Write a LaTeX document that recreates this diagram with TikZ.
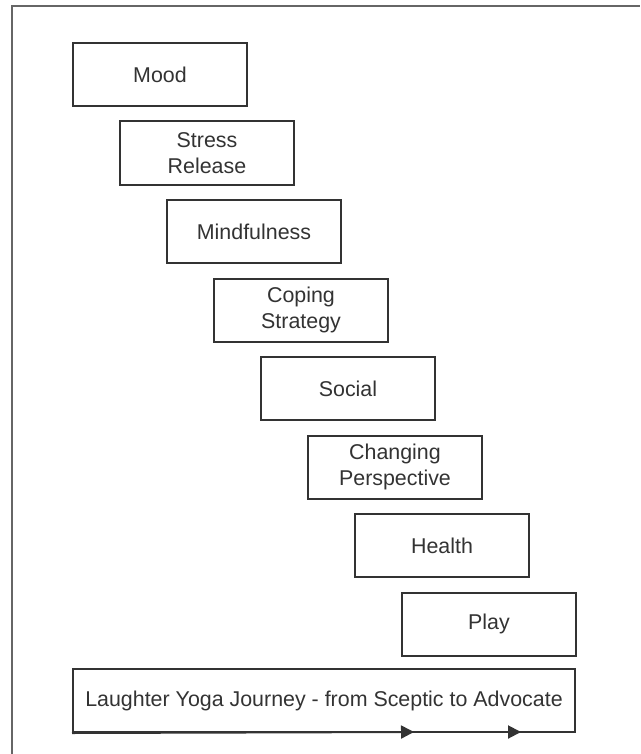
\documentclass[tikz,border=0pt]{standalone}
\usepackage{fontspec}
\setmainfont{Liberation Sans}
\usepackage{tikz}
\usetikzlibrary{arrows.meta}
\definecolor{stepLine}{HTML}{333333}
\definecolor{frameLine}{HTML}{666666}

\begin{document}
\begin{tikzpicture}[x=1pt, y=-1pt,
    stepbox/.style={draw=stepLine, line width=2pt, text=stepLine, align=center,
        minimum width=174pt, minimum height=63pt, inner sep=0pt,
        font=\fontsize{21.4}{26}\selectfont}]
    \useasboundingbox (0,0) rectangle (640,754);
    \fill[white] (0,0) rectangle (640,754);
    % outer frame, only top and left edges fall in view
    \draw[frameLine, line width=2pt] (12,754) -- (12,6) -- (640,6);
    \foreach \lbl [count=\i] in {Mood, Stress\\Release, Mindfulness, Coping\\Strategy,
        Social, Changing\\Perspective, Health, Play}
        \node[stepbox] (s\i) at ({160+47*(\i-1)}, {74.5+78.5*(\i-1)}) {\lbl};
    \node[stepbox, minimum width=502pt] (journey) at (324,700.5)
        {Laughter Yoga Journey - from Sceptic to Advocate};
    \coordinate (t1) at (414,732);
    \coordinate (t2) at (521,732);
    \draw[stepLine, line width=2pt, -{Triangle[length=13pt,width=13pt]}] (journey.south west) -- (t1);
    \draw[stepLine, line width=2pt, -{Triangle[length=13pt,width=13pt]}] (t1) -- (t2);
\end{tikzpicture}
\end{document}
